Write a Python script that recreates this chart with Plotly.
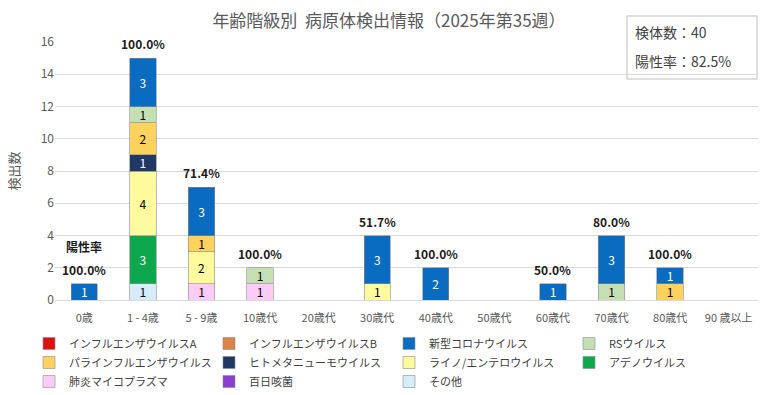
import plotly.graph_objects as go

categories = ["0歳", "1 - 4歳", "5 - 9歳", "10歳代", "20歳代", "30歳代", "40歳代",
              "50歳代", "60歳代", "70歳代", "80歳代", "90 歳以上"]

inf_a =   [0, 0, 0, 0, 0, 0, 0, 0, 0, 0, 0, 0]
inf_b =   [0, 0, 0, 0, 0, 0, 0, 0, 0, 0, 0, 0]
corona =  [1, 3, 3, 0, 0, 3, 2, 0, 1, 3, 1, 0]
rs =      [0, 1, 0, 1, 0, 0, 0, 0, 0, 1, 0, 0]
para =    [0, 2, 1, 0, 0, 0, 0, 0, 0, 0, 1, 0]
hmpv =    [0, 1, 0, 0, 0, 0, 0, 0, 0, 0, 0, 0]
rhino =   [0, 4, 2, 0, 0, 1, 0, 0, 0, 0, 0, 0]
adeno =   [0, 3, 0, 0, 0, 0, 0, 0, 0, 0, 0, 0]
myco =    [0, 0, 1, 1, 0, 0, 0, 0, 0, 0, 0, 0]
pertussis = [0, 0, 0, 0, 0, 0, 0, 0, 0, 0, 0, 0]
other =   [0, 1, 0, 0, 0, 0, 0, 0, 0, 0, 0, 0]

positivity = [100.0, 100.0, 71.4, 100.0, None, 51.7, 100.0, None, 50.0, 80.0, 100.0, None]

specimens = 40
overall_rate = 82.5

# legend order (top-left first); stacking is the reverse (その他 at bottom)
series = [
    ("インフルエンザウイルスA", inf_a, "#E01010", "white"),
    ("インフルエンザウイルスB", inf_b, "#D9844A", "black"),
    ("新型コロナウイルス", corona, "#0A6CC0", "white"),
    ("RSウイルス", rs, "#C5DFB4", "black"),
    ("パラインフルエンザウイルス", para, "#FFD25E", "black"),
    ("ヒトメタニューモウイルス", hmpv, "#203864", "white"),
    ("ライノ/エンテロウイルス", rhino, "#FFFA9E", "black"),
    ("アデノウイルス", adeno, "#0DA74E", "white"),
    ("肺炎マイコプラズマ", myco, "#FCCCF8", "black"),
    ("百日咳菌", pertussis, "#8A3FD0", "white"),
    ("その他", other, "#D6ECF8", "black"),
]

FONT = "Noto Sans CJK JP"
fig = go.Figure()
for name, vals, color, tcolor in reversed(series):
    y = [v if v else None for v in vals]
    txt = [str(v) if v else "" for v in vals]
    fig.add_trace(go.Bar(
        name=name, x=categories, y=y, text=txt,
        textposition="inside", insidetextanchor="middle", textangle=0,
        textfont=dict(color=tcolor, size=12, family=FONT),
        marker=dict(color=color, line=dict(color="#8C8C8C", width=0.6)),
        constraintext="none",
    ))

totals = [sum(s[1][i] for s in series) for i in range(len(categories))]

annotations = []
for i, p in enumerate(positivity):
    if p is None:
        continue
    annotations.append(dict(
        x=categories[i], y=totals[i], xref="x", yref="y",
        text=f"<b>{p:.1f}%</b>", showarrow=False, yanchor="bottom", yshift=4,
        font=dict(size=12, color="#1A1A1A", family=FONT)))
annotations.append(dict(
    x=categories[0], y=totals[0], xref="x", yref="y",
    text="<b>陽性率</b>", showarrow=False, yanchor="bottom", yshift=27,
    font=dict(size=12, color="#1A1A1A", family=FONT)))

L, R, T, B = 55, 20, 42, 95
W, H = 778, 395
pw, ph = W - L - R, H - T - B
def px(xp): return (xp - L) / pw
def py(yp): return (H - B - yp) / ph

annotations.append(dict(x=px(633), y=py(32), xref="paper", yref="paper",
                        text=f"検体数：{specimens}", showarrow=False,
                        xanchor="left", yanchor="middle",
                        font=dict(size=14, color="#404040", family=FONT)))
annotations.append(dict(x=px(633), y=py(61), xref="paper", yref="paper",
                        text=f"陽性率：{overall_rate}%", showarrow=False,
                        xanchor="left", yanchor="middle",
                        font=dict(size=14, color="#404040", family=FONT)))

shapes = [
    dict(type="rect", xref="paper", yref="paper", x0=px(627), x1=px(757), y0=py(79), y1=py(16),
         line=dict(color="#BFBFBF", width=1), fillcolor="white", layer="below"),
]

fig.update_layout(
    width=W, height=H, barmode="stack", bargap=0.55,
    margin=dict(l=L, r=R, t=T, b=B, autoexpand=False),
    paper_bgcolor="white", plot_bgcolor="white",
    font=dict(family=FONT, color="#595959", size=12),
    title=dict(text="年齢階級別  病原体検出情報（2025年第35週）", x=0.5, xanchor="center",
               y=1 - 21 / H, yanchor="middle", yref="container",
               font=dict(size=17, color="#595959", family=FONT)),
    xaxis=dict(showgrid=False, ticks="", tickfont=dict(size=11, color="#595959"),
               showline=True, linecolor="#D9D9D9", linewidth=1, automargin=False,
               ticklabelstandoff=8),
    yaxis=dict(range=[0, 16], dtick=2, showgrid=True, gridcolor="#D9D9D9", zeroline=False,
               tickfont=dict(size=12, color="#595959"), ticks="", automargin=False,
               title=dict(text="検出数", font=dict(size=13, color="#595959"), standoff=18)),
    legend=dict(orientation="h", traceorder="reversed", x=px(29), y=py(396),
                xanchor="left", yanchor="bottom", entrywidth=135, entrywidthmode="pixels",
                font=dict(size=11, color="#404040", family=FONT),
                itemwidth=30, tracegroupgap=0),
    annotations=annotations, shapes=shapes,
    showlegend=True,
)

fig.write_html(
    "out.html", config={"displayModeBar": False},
    post_script=("document.body.style.margin='0';document.body.style.padding='0';"
                 "var g=document.querySelector('.plotly-graph-div');"
                 "g.style.outline='1px solid #D9D9D9';g.style.outlineOffset='-1px';"))
